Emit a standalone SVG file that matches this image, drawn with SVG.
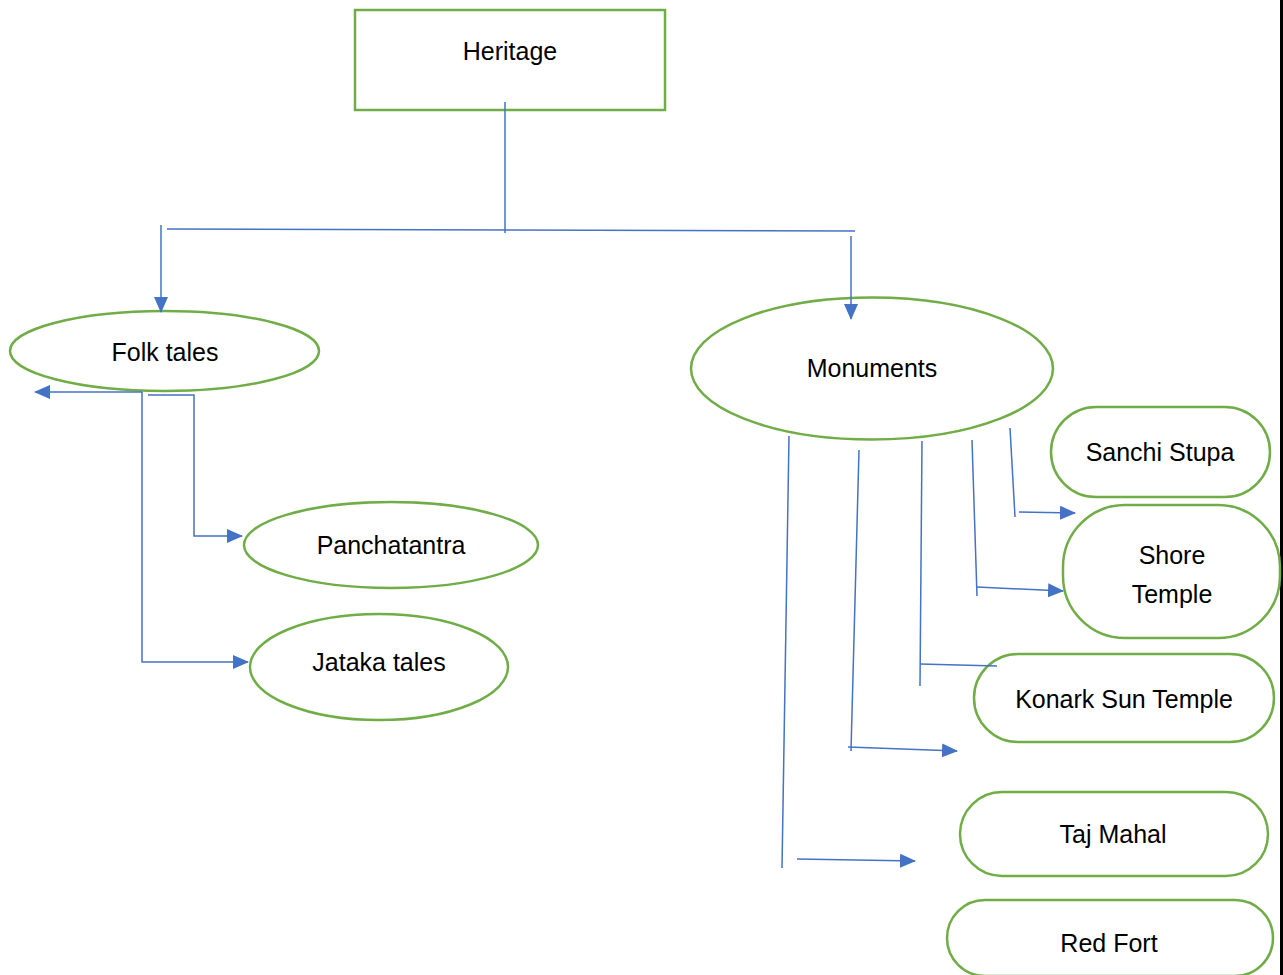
<svg xmlns="http://www.w3.org/2000/svg" width="1283" height="975" viewBox="0 0 1283 975">
<style>
.n{fill:#fff;stroke:#70AD47;stroke-width:2.5}
.t{font-family:"Liberation Sans",Arial,sans-serif;font-size:25px;fill:#000;text-anchor:middle}
.c{fill:none;stroke:#4472C4;stroke-width:1.5}
</style>
<defs>
<marker id="a" markerUnits="userSpaceOnUse" markerWidth="16" markerHeight="14" refX="15" refY="7" orient="auto">
<path d="M0,0 L16,7 L0,14 Z" fill="#4472C4"/>
</marker>
</defs>
<rect width="1283" height="975" fill="#fff"/>
<line x1="1281.5" y1="0" x2="1281.5" y2="975" stroke="#000" stroke-width="3"/>
<g id="heritage"><rect class="n" x="355" y="10" width="310" height="100"/><text class="t" x="510" y="60">Heritage</text></g>
<g id="folk"><ellipse class="n" cx="164.5" cy="351" rx="154.5" ry="40"/><text class="t" x="165" y="361">Folk tales</text></g>
<g id="monuments"><ellipse class="n" cx="872" cy="368.5" rx="181" ry="71"/><text class="t" x="872" y="377">Monuments</text></g>
<g id="panchatantra"><ellipse class="n" cx="391" cy="545" rx="147" ry="43"/><text class="t" x="391" y="554">Panchatantra</text></g>
<g id="jataka"><ellipse class="n" cx="379" cy="667" rx="129" ry="53"/><text class="t" x="379" y="671">Jataka tales</text></g>
<g id="sanchi"><rect class="n" x="1051" y="407" width="219" height="90" rx="45"/><text class="t" x="1160" y="461">Sanchi Stupa</text></g>
<g id="shore"><rect class="n" x="1063" y="505" width="217" height="133" rx="62"/><text class="t" x="1172" y="564">Shore</text><text class="t" x="1172" y="603">Temple</text></g>
<g id="konark"><rect class="n" x="974" y="654" width="300" height="88" rx="44"/><text class="t" x="1124" y="708">Konark Sun Temple</text></g>
<g id="taj"><rect class="n" x="960" y="792" width="308" height="84" rx="42"/><text class="t" x="1113" y="843">Taj Mahal</text></g>
<g id="redfort"><rect class="n" x="947" y="900" width="326" height="76" rx="38"/><text class="t" x="1109" y="952">Red Fort</text></g>
<g id="connectors">
<line class="c" x1="505" y1="102" x2="505" y2="233"/>
<line class="c" x1="167" y1="229" x2="855" y2="231"/>
<line class="c" x1="161" y1="225" x2="161" y2="312" marker-end="url(#a)"/>
<line class="c" x1="851" y1="236" x2="851" y2="319" marker-end="url(#a)"/>
<polyline class="c" points="142,392 35,392" marker-end="url(#a)"/>
<polyline class="c" points="142,392 142,662 248,662" marker-end="url(#a)"/>
<polyline class="c" points="148,395 194,395 194,536 242,536" marker-end="url(#a)"/>
<line class="c" x1="789" y1="436" x2="782" y2="868"/>
<line class="c" x1="797" y1="859" x2="915" y2="861" marker-end="url(#a)"/>
<line class="c" x1="859" y1="450" x2="851" y2="751"/>
<line class="c" x1="848" y1="747" x2="957" y2="751" marker-end="url(#a)"/>
<line class="c" x1="922" y1="441" x2="920" y2="686"/>
<line class="c" x1="920" y1="664" x2="997" y2="666"/>
<line class="c" x1="972" y1="440" x2="977" y2="596"/>
<line class="c" x1="977" y1="587" x2="1063" y2="591" marker-end="url(#a)"/>
<line class="c" x1="1010" y1="428" x2="1015" y2="517"/>
<line class="c" x1="1019" y1="512" x2="1075" y2="513" marker-end="url(#a)"/>
</g>
</svg>
